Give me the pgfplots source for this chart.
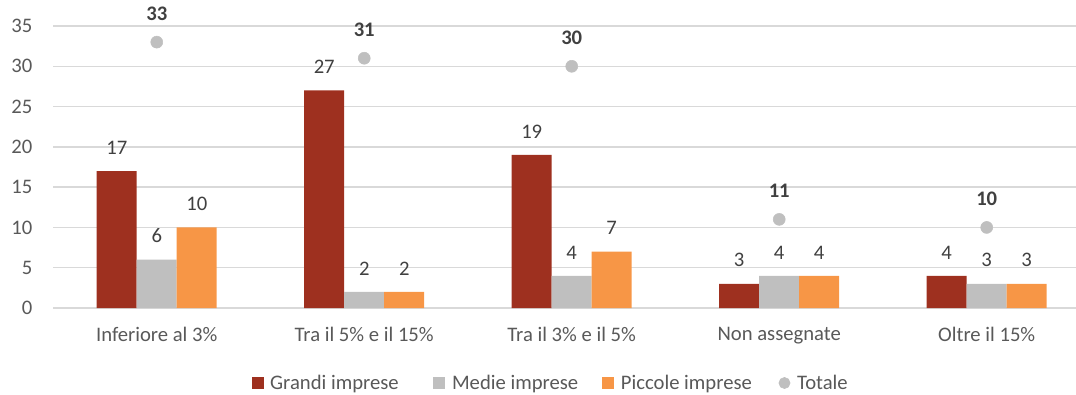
\documentclass[border=0pt]{standalone}
\usepackage{pgfplots}
\pgfplotsset{compat=1.18}
\usepackage{fontspec}
\setmainfont{Carlito}

\definecolor{grandi}{RGB}{158,48,31}
\definecolor{medie}{RGB}{191,191,191}
\definecolor{piccole}{RGB}{247,150,70}
\definecolor{gridgray}{RGB}{217,217,217}
\definecolor{txtgray}{RGB}{89,89,89}
\definecolor{lblgray}{RGB}{64,64,64}

\begin{document}
\begin{tikzpicture}
\useasboundingbox (0,0) rectangle (807pt,295.5pt);
\begin{axis}[
  at={(39.75pt,64.5pt)}, anchor=south west,
  scale only axis,
  width=778.1pt, height=211.5pt,
  xmin=-0.5, xmax=4.5,
  ymin=0, ymax=35,
  ytick={0,5,...,35},
  xtick={0,1,2,3,4},
  xticklabels={Inferiore al 3\%, Tra il 5\% e il 15\%, Tra il 3\% e il 5\%, Non assegnate, Oltre il 15\%},
  axis line style={draw=none},
  major tick length=0pt,
  ymajorgrids,
  grid style={gridgray, line width=1.1pt},
  tick label style={font=\fontsize{15.5}{18}\selectfont, text=txtgray},
  /pgf/number format/assume math mode=true,
  yticklabel style={xshift=-12pt},
  xticklabel style={yshift=-11pt},
  clip=false,
  legend cell align=left,
  legend style={
    at={(0.48,-0.266)}, anchor=center,
    draw=none, fill=none,
    legend columns=4,
    font=\fontsize{15.5}{18}\selectfont,
    text=txtgray,
    /tikz/every odd column/.append style={column sep=3pt},
  },
  nodes near coords style={font=\fontsize{15.5}{18}\selectfont, text=lblgray},
]
% Grandi imprese
\addplot[ybar, bar width=30pt, bar shift=-30pt, fill=grandi, draw=none,
  nodes near coords, nodes near coords style={anchor=south, yshift=9pt, xshift=-30pt},
  legend image code/.code={\fill[grandi] (0pt,-4.5pt) rectangle (9pt,4.5pt);}]
  coordinates {(0,17) (1,27) (2,19) (3,3) (4,4)};
\addlegendentry{Grandi imprese\hspace*{24pt}}
% Medie imprese
\addplot[ybar, bar width=30pt, bar shift=0pt, fill=medie, draw=none,
  nodes near coords, nodes near coords style={anchor=south, yshift=9pt},
  legend image code/.code={\fill[medie] (0pt,-4.5pt) rectangle (9pt,4.5pt);}]
  coordinates {(0,6) (1,2) (2,4) (3,4) (4,3)};
\addlegendentry{Medie imprese\hspace*{16pt}}
% Piccole imprese
\addplot[ybar, bar width=30pt, bar shift=30pt, fill=piccole, draw=none,
  nodes near coords, nodes near coords style={anchor=south, yshift=9pt, xshift=30pt},
  legend image code/.code={\fill[piccole] (0pt,-4.5pt) rectangle (9pt,4.5pt);}]
  coordinates {(0,10) (1,2) (2,7) (3,4) (4,3)};
\addlegendentry{Piccole imprese\hspace*{18pt}}
% Totale
\addplot[color=medie, only marks, mark=*, mark size=4.5pt, mark options={fill=medie, draw=medie},
  nodes near coords,
  nodes near coords style={anchor=south, yshift=12.5pt, text=lblgray, font=\fontsize{15.5}{18}\selectfont\bfseries},
  legend image code/.code={\fill[medie] (4.5pt,0pt) circle (4.2pt);}]
  coordinates {(0,33) (1,31) (2,30) (3,11) (4,10)};
\addlegendentry{Totale}
\end{axis}
\end{tikzpicture}
\end{document}
